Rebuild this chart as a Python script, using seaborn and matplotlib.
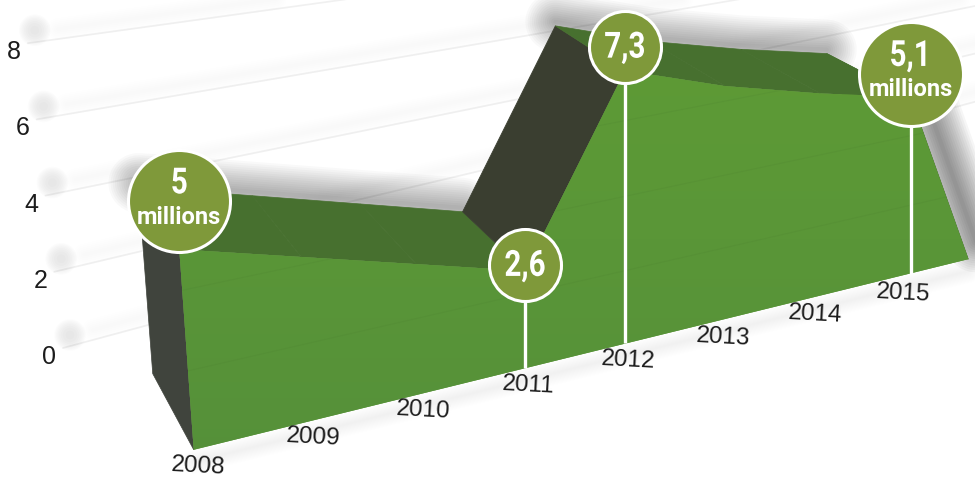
import numpy as np
import pandas as pd
import matplotlib
matplotlib.use("Agg")
import matplotlib.pyplot as plt
from matplotlib.colors import LinearSegmentedColormap
from matplotlib.patheffects import AbstractPathEffect
from matplotlib.transforms import Affine2D
import seaborn as sns

years = [2008, 2009, 2010, 2011, 2012, 2013, 2014, 2015]
values = [5.0, 4.2, 3.4, 2.6, 7.3, 6.4, 5.7, 5.1]
y_ticks = [0, 2, 4, 6, 8]
callout_years = [2008, 2011, 2012, 2015]
callout_big = ["5", "2,6", "7,3", "5,1"]
callout_small = ["millions", "", "", "millions"]

# perspective camera: (year index, value, depth, 1) -> homogeneous pixels
CAMERA = np.array([
    [124.536337, -3.808479, -28.474946, 193.735959],
    [-18.213492, -41.352664, -45.446209, 449.778278],
    [0.024991, -0.005121, 0.081949, 1.0],
])
T_END = 7.72  # where the area lands on the floor after the last year
CALLOUT_R = {2008: 51, 2011: 36, 2012: 36, 2015: 52}
CALLOUT_LIFT = {2008: 48, 2011: 6, 2012: 24, 2015: 23}
NARROW = ["Roboto", "DejaVu Sans"]


def project(t, v, d=0.0):
    t, v = np.broadcast_arrays(np.asarray(t, float), np.asarray(v, float))
    p = CAMERA @ np.stack([t, v, np.full(t.shape, d), np.ones(t.shape)])
    return p[0] / p[2], p[1] / p[2]


def wall(v, s):
    # faint back wall grid, s = pixels to the right of the line's left end
    x0 = 63 - 4.4 * v
    y0 = 348 - 38.1 * v
    return x0 + s, y0 - (0.27 - 0.0165 * v) * s


def soft_line(ax, x, y, width, peak=0.3, n=14, zorder=1):
    # poor man's blur: stacked strokes of growing width
    alpha = 1 - (1 - peak) ** (1 / n)
    for lw in np.linspace(width / n, width, n):
        ax.plot(x, y, color="black", alpha=alpha, lw=lw * 0.72, solid_capstyle="round",
                solid_joinstyle="round", zorder=zorder)


class Condense(AbstractPathEffect):
    # squeeze glyphs sideways, no condensed family is installed
    def __init__(self, sx):
        super().__init__()
        self.sx = sx

    def draw_path(self, renderer, gc, tpath, affine, rgbFace=None):
        cx = tpath.get_extents().x0 + tpath.get_extents().width / 2
        squeeze = Affine2D().translate(-cx, 0).scale(self.sx, 1).translate(cx, 0)
        renderer.draw_path(gc, tpath, squeeze + affine, rgbFace)


sns.set_theme(style="white")
plt.rcParams["font.family"] = ["Liberation Sans", "DejaVu Sans"]
fig = plt.figure(figsize=(9.75, 4.78), dpi=100)
ax = fig.add_axes([0, 0, 1, 1])

t_idx = np.array([y - years[0] for y in years], dtype=float)
vals = np.array(values)
t_all = np.r_[t_idx, T_END]
v_all = np.r_[vals, 0.0]

# back wall grid
rows = []
for lv in y_ticks:
    for s in (0, 1000):
        gx, gy = wall(lv, s)
        rows.append({"level": lv, "px": gx, "py": gy})
grid = pd.DataFrame(rows)
sns.lineplot(data=grid, x="px", y="py", units="level", estimator=None, color="#f0f0f0",
             lw=1.2, ax=ax, zorder=1, sort=False, legend=False)
for lv in y_ticks:
    gx, gy = wall(lv, 0)
    ax.scatter([gx + 7] * 8, [gy - 13] * 8, s=np.linspace(40, 520, 8), color="black", alpha=0.011,
               linewidths=0, zorder=1)
    sx, sy = wall(lv, np.array([30, 1000]))
    soft_line(ax, sx, sy - 10, 22, peak=0.02, n=6, zorder=1)
    ax.text(gx - 14, gy + 9, str(lv), ha="center", va="center", fontsize=18, color="#1c1c1c")

# soft shadows
bx, by = project(t_idx[:4], vals[:4], 1.0)
soft_line(ax, bx, by - 4, 60, peak=0.28, zorder=2)
bx, by = project(t_idx[4:], vals[4:], 1.0)
soft_line(ax, bx, by - 4, 60, peak=0.28, zorder=2)
sx, sy = project([7.0, T_END], [5.1, 0.0], 0.0)
soft_line(ax, sx + 14, sy, 62, peak=0.4, zorder=2)
lx, ly = project([0, T_END], [0, 0], 0.0)
soft_line(ax, lx, ly + 12, 24, peak=0.07, zorder=2)

# side and top faces of the extruded area
fx, fy = project(t_all, v_all, 0.0)
kx, ky = project(t_all, v_all, 1.0)
for i in range(len(t_all) - 1):
    rising = v_all[i + 1] > v_all[i]
    ax.fill([fx[i], fx[i + 1], kx[i + 1], kx[i]], [fy[i], fy[i + 1], ky[i + 1], ky[i]],
            color="#3a3e30" if rising else "#47702f", lw=0.5, zorder=3)
lx, ly = project([0, 0], [0, 5], 0.0)
bx, by = project([0, 0], [5, 0], 1.0)
ax.fill([lx[0], lx[1], bx[0], bx[1]], [ly[0], ly[1], by[0], by[1]], color="#40443d", lw=0.5, zorder=3)

# front face
px, py = project(np.r_[t_all, 0], np.r_[v_all, 0], 0.0)
front = ax.fill(px, py, color="#5a9436", lw=0, zorder=4)[0]
grad = np.linspace(0, 1, 256).reshape(-1, 1)
img = ax.imshow(grad, extent=(0, 975, 478, 0), aspect="auto", zorder=4.1,
                cmap=LinearSegmentedColormap.from_list("front", ["#5f9c35", "#55903a"]))
img.set_clip_path(front)
for lv in y_ticks[1:-1]:
    gx, gy = project([0, 8], [lv, lv], 0.0)
    ln = ax.plot(gx, gy, color="#4c8030", alpha=0.2, lw=0.8, zorder=4.2)[0]
    ln.set_clip_path(front)

# year labels
for t, yr in zip(t_idx, years):
    tx, ty = project(t * 0.975, 0, -0.16)
    ax.text(tx.item() - 3, ty.item() + 3 + 0.4 * t, str(yr), ha="center", va="center", fontsize=17.5,
            color="#1c1c1c", rotation=-3, zorder=5)

# callouts
for yr, a, b in zip(callout_years, callout_big, callout_small):
    i = years.index(yr)
    vx, vy = project(t_idx[i], vals[i], 0.0)
    vx, vy = vx.item(), vy.item()
    r = CALLOUT_R[yr]
    cy = vy - CALLOUT_LIFT[yr]
    base = project(t_idx[i], 0, 0.0)[1].item()
    if yr != 2008:
        ax.plot([vx, vx], [cy, base], color="white", lw=2.4, solid_capstyle="butt", zorder=6)
    sns.scatterplot(x=[vx], y=[cy], s=(2 * r * 0.72) ** 2, color="#7f993a", edgecolor="white",
                    linewidth=2.2, ax=ax, zorder=7, legend=False, clip_on=False)
    big_y = cy - 18 if b else cy + 1
    ax.text(vx, big_y, a, ha="center", va="center", color="white", fontsize=26,
            fontweight="bold", family=NARROW, zorder=8, path_effects=[Condense(0.82)])
    if b:
        ax.text(vx, cy + 16, b, ha="center", va="center", color="white", fontsize=17,
                fontweight="bold", family=NARROW, zorder=8)

ax.set_xlim(0, 975)
ax.set_ylim(478, 0)
ax.axis("off")
fig.savefig("out.png", dpi=100)
